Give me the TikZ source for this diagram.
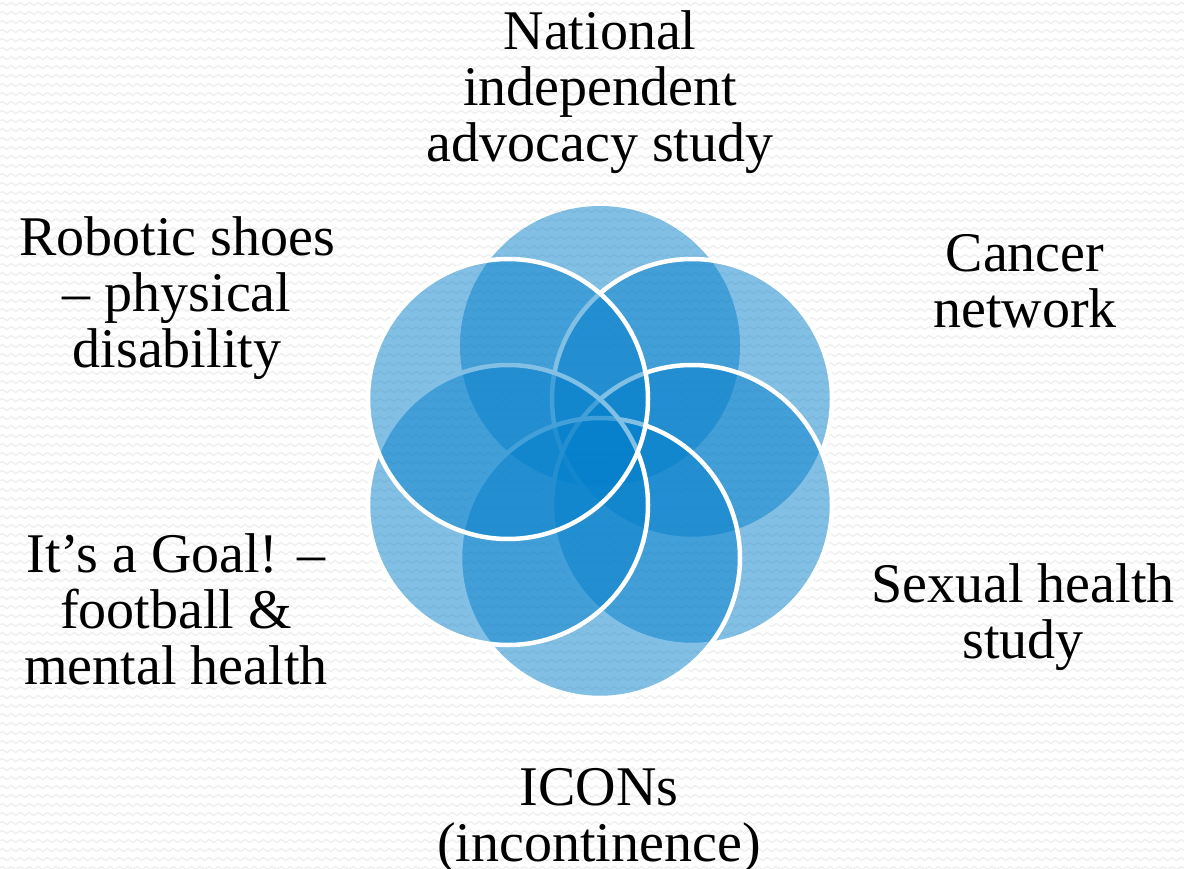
\documentclass[tikz,border=0pt]{standalone}
\usepackage{fontspec}
\setmainfont{Liberation Serif}
\usetikzlibrary{decorations.pathmorphing}
\definecolor{flower}{RGB}{5,128,204}
\definecolor{zig}{RGB}{238,238,238}
\begin{document}
\begin{tikzpicture}[x=1pt,y=-1pt,
  petal/.style={fill=flower, fill opacity=0.5},
  rim/.style={draw=white, line width=4.5pt},
  bgzig/.style={draw=zig, line width=1.2pt, decorate, decoration={zigzag, segment length=9pt, amplitude=1.5pt}},
  lab/.style={font=\fontsize{56}{56}\selectfont, inner sep=0pt, anchor=base, text=black}]
\useasboundingbox (0,0) rectangle (1184,869);
\fill[white] (0,0) rectangle (1184,869);
\foreach \i in {0,...,96} \draw[bgzig] (0,\i*9+4) -- (1184,\i*9+4);
% petal centres
\coordinate (cT)  at (600,346);
\coordinate (cTR) at (692,399);
\coordinate (cBR) at (692,505);
\coordinate (cB)  at (600,558);
\coordinate (cBL) at (508,505);
\coordinate (cTL) at (508,399);
\fill[petal] (cT) circle[radius=140];
\fill[petal] (cTR) circle[radius=140];
\draw[rim] (cTR) circle[radius=140];
\fill[petal] (cBR) circle[radius=140];
\draw[rim] (cBR) circle[radius=140];
\fill[petal] (cB) circle[radius=140];
\draw[rim] (cB) circle[radius=140];
\fill[petal] (cBL) circle[radius=140];
\draw[rim] (cBL) circle[radius=140];
\fill[petal] (cTL) circle[radius=140];
\draw[rim] (cTL) circle[radius=140];
% labels
\node[lab] (nat) at (600,50) {\begin{tabular}[t]{@{}c@{}}National\\independent\\advocacy study\end{tabular}};
\node[lab] (rob) at (177,256) {\begin{tabular}[t]{@{}c@{}}Robotic shoes\\– physical\\disability\end{tabular}};
\node[lab] (can) at (1025,272) {\begin{tabular}[t]{@{}c@{}}Cancer\\network\end{tabular}};
\node[lab] (sex) at (1023,602) {\begin{tabular}[t]{@{}c@{}}Sexual health\\study\end{tabular}};
\node[lab] (goal) at (176,572) {\begin{tabular}[t]{@{}c@{}}It’s a Goal! –\\football \&\\mental health\end{tabular}};
\node[lab] (icon) at (599,805) {\begin{tabular}[t]{@{}c@{}}ICONs\\(incontinence)\end{tabular}};
\end{tikzpicture}
\end{document}
